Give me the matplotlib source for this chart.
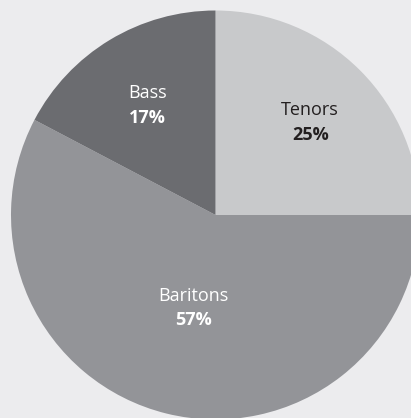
import numpy as np
import matplotlib
matplotlib.use("Agg")
import matplotlib.pyplot as plt

categories = ["Tenors", "Baritons", "Bass"]
shares = [25.0, 57.7, 17.3]
pct_labels = ["25%", "57%", "17%"]
colors = ["#c8c9cb", "#939498", "#6b6c70"]
text_colors = ["#231f20", "white", "white"]
label_r = [0.655, 0.455, 0.64]

W, H, DPI = 411, 418, 100
fig = plt.figure(figsize=(W / DPI, H / DPI), dpi=DPI, facecolor="#ececee")
ax = fig.add_axes([0, 0, 1, 1])
ax.set_facecolor("#ececee")

cx, cy, R = 215.5, 215.0, 204.5
wedges, _ = ax.pie(shares, colors=colors, startangle=90, counterclock=False,
                   wedgeprops=dict(linewidth=0, antialiased=True))
ax.set_aspect("auto")
ax.set_xlim(-cx / R, (W - cx) / R)
ax.set_ylim(-(H - cy) / R, cy / R)
ax.axis("off")

fam = ["Open Sans", "DejaVu Sans"]
off = 12.3 / R
shift = -2.5 / R
for w, name, pct, tc, r in zip(wedges, categories, pct_labels, text_colors, label_r):
    ang = np.deg2rad((w.theta1 + w.theta2) / 2)
    x, y = r * np.cos(ang), r * np.sin(ang) + shift
    ax.text(x, y + off, name, ha="center", va="center", fontsize=13,
            color=tc, family=fam)
    ax.text(x, y - off, pct, ha="center", va="center", fontsize=13,
            color=tc, family=fam, fontweight="bold")

fig.savefig("out.png", dpi=DPI, facecolor=fig.get_facecolor())
